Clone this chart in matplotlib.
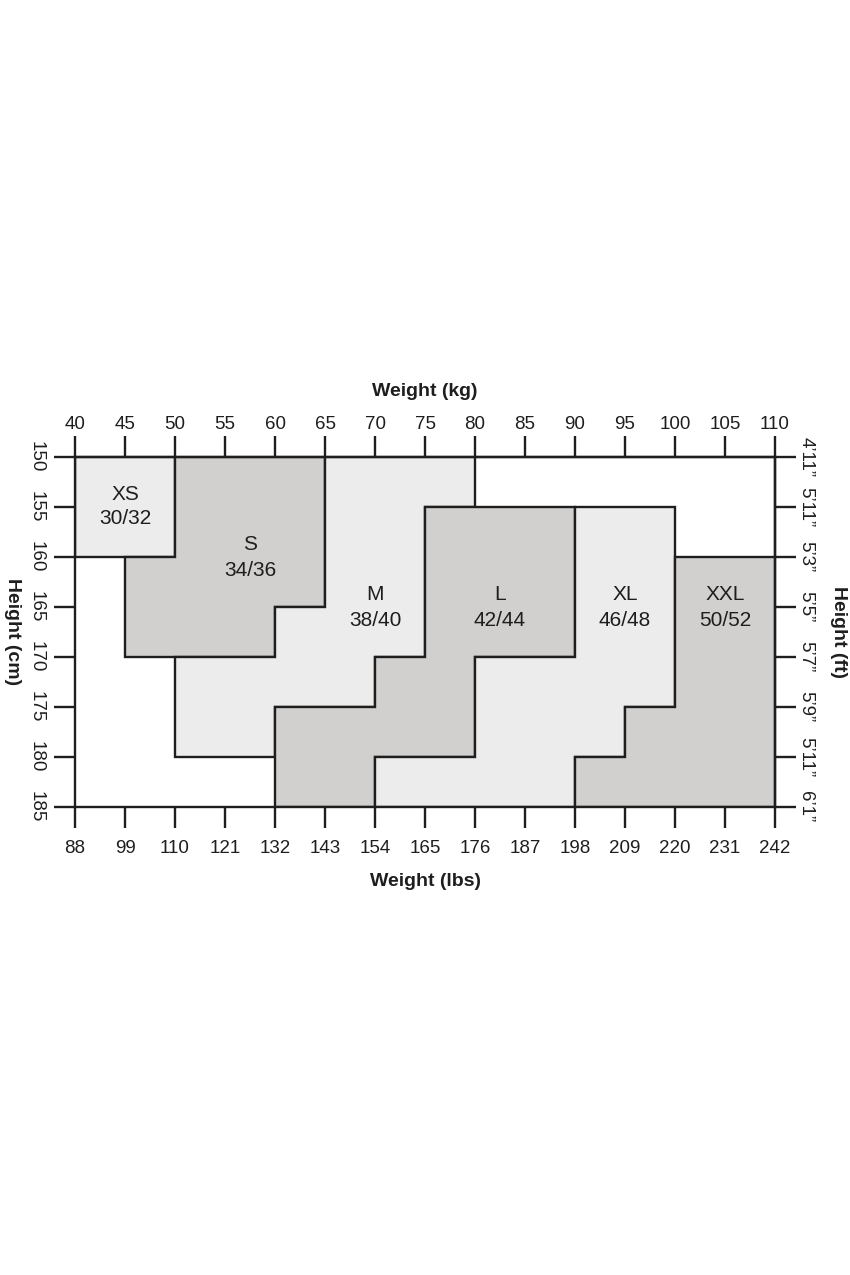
import matplotlib.pyplot as plt
from matplotlib.patches import Polygon

plt.rcParams["font.family"] = ["Liberation Sans", "DejaVu Sans"]

# Axis scales
kg_ticks = [40, 45, 50, 55, 60, 65, 70, 75, 80, 85, 90, 95, 100, 105, 110]
lbs_labels = ["88", "99", "110", "121", "132", "143", "154", "165",
              "176", "187", "198", "209", "220", "231", "242"]
cm_ticks = [150, 155, 160, 165, 170, 175, 180, 185]
ft_labels = ["4\u201911\u201d", "5\u201911\u201d", "5\u20193\u201d", "5\u20195\u201d",
             "5\u20197\u201d", "5\u20199\u201d", "5\u201911\u201d", "6\u20191\u201d"]

# Size zones (weight kg, height cm outlines)
sizes = ["XS", "S", "M", "L", "XL", "XXL"]
eu_sizes = ["30/32", "34/36", "38/40", "42/44", "46/48", "50/52"]
zones = [
    [(40, 150), (50, 150), (50, 160), (40, 160)],
    [(50, 150), (65, 150), (65, 165), (60, 165), (60, 170), (45, 170), (45, 160), (50, 160)],
    [(65, 150), (80, 150), (80, 155), (75, 155), (75, 170), (70, 170), (70, 175), (60, 175),
     (60, 180), (50, 180), (50, 170), (60, 170), (60, 165), (65, 165)],
    [(75, 155), (90, 155), (90, 170), (80, 170), (80, 180), (70, 180), (70, 185), (60, 185),
     (60, 175), (70, 175), (70, 170), (75, 170)],
    [(90, 155), (100, 155), (100, 175), (95, 175), (95, 180), (90, 180), (90, 185), (70, 185),
     (70, 180), (80, 180), (80, 170), (90, 170)],
    [(100, 160), (110, 160), (110, 185), (90, 185), (90, 180), (95, 180), (95, 175), (100, 175)],
]
label_x = [45, 57.5, 70, 82.5, 95, 105]
label_y = [153.7, 158.8, 163.8, 163.8, 163.8, 163.8]

light = "#ececec"
dark = "#d1d0ce"
ink = "#1e1e1e"
shades = [light, dark, light, dark, light, dark]
lw = 1.7

W, H = 850, 1275
fig = plt.figure(figsize=(8.5, 12.75), dpi=100)
ax = fig.add_axes([75 / W, 1 - 807 / H, 700 / W, 350 / H])

for pts, col in zip(zones, shades):
    ax.add_patch(Polygon(pts, closed=True, facecolor=col, edgecolor=ink,
                         linewidth=lw, joinstyle="miter", zorder=2))

for name, eu, x, y in zip(sizes, eu_sizes, label_x, label_y):
    ax.text(x, y, name, ha="center", va="center", fontsize=15, color=ink, zorder=3)
    ax.text(x, y + 2.5, eu, ha="center", va="center", fontsize=15, color=ink, zorder=3)

ax.set_xlim(40, 110)
ax.set_ylim(185, 150)

for sp in ax.spines.values():
    sp.set_linewidth(lw)
    sp.set_color(ink)
    sp.set_zorder(4)

tick_kw = dict(length=15, width=lw, color=ink, labelcolor=ink, labelsize=13.5)
label_kw = dict(fontsize=14, fontweight="bold", color=ink)

# bottom: lbs
ax.set_xticks(kg_ticks)
ax.set_xticklabels(lbs_labels)
ax.tick_params(axis="x", direction="out", pad=9, **tick_kw)
ax.set_xlabel("Weight (lbs)", va="center", **label_kw)
ax.xaxis.set_label_coords(0.5, 1 - 882 / H, transform=fig.transFigure)

# left: cm
ax.set_yticks(cm_ticks)
ax.set_yticklabels([str(c) for c in cm_ticks], rotation=-90, va="center")
ax.tick_params(axis="y", direction="out", pad=7, **tick_kw)
ax.set_ylabel("Height (cm)", rotation=-90, va="center", ha="center", **label_kw)
ax.yaxis.set_label_coords(12 / W, 1 - 632 / H, transform=fig.transFigure)

# top: kg
top = ax.secondary_xaxis("top")
top.set_xticks(kg_ticks)
top.set_xticklabels([str(k) for k in kg_ticks])
top.tick_params(axis="x", direction="out", pad=2, **tick_kw)
top.set_xlabel("Weight (kg)", va="center", **label_kw)
top.xaxis.set_label_coords(425 / W, 1 - 391 / H, transform=fig.transFigure)
top.spines["top"].set_linewidth(lw)
top.spines["top"].set_color(ink)

# right: ft
right = ax.secondary_yaxis("right")
right.set_yticks(cm_ticks)
right.set_yticklabels(ft_labels, rotation=-90, va="center")
right.tick_params(axis="y", direction="out", pad=1, **tick_kw)
right.set_ylabel("Height (ft)", rotation=-90, va="center", ha="center", **label_kw)
right.yaxis.set_label_coords(838 / W, 1 - 632 / H, transform=fig.transFigure)
right.spines["right"].set_linewidth(lw)
right.spines["right"].set_color(ink)

fig.savefig("out.png", dpi=100, facecolor="white")
